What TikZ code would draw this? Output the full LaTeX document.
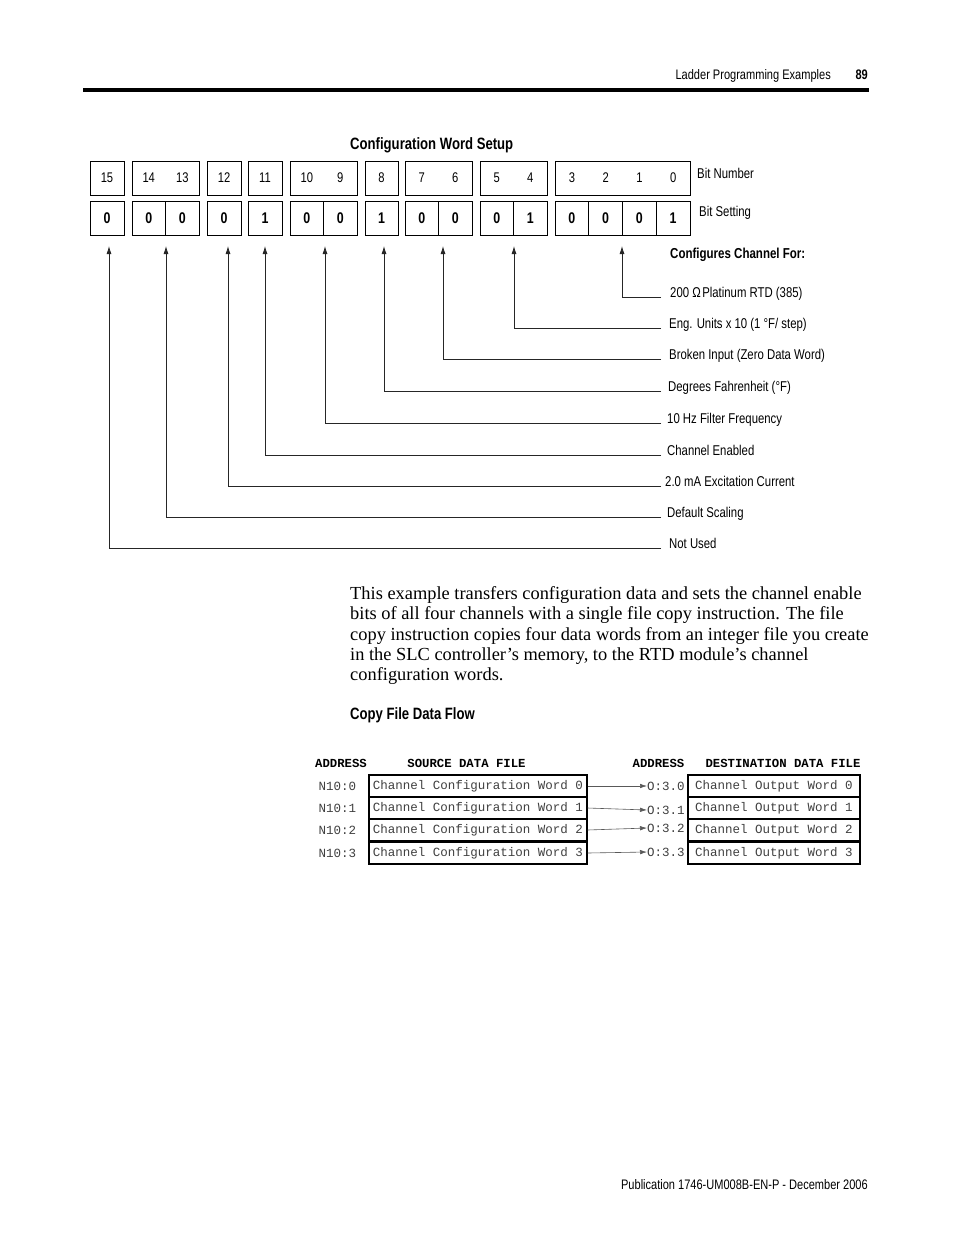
\documentclass[tikz,border=0pt]{standalone}
\usepackage{fontspec}
\setmainfont{Liberation Serif}
\newfontfamily\condsans[FakeStretch=0.8]{Liberation Sans}
\newfontfamily\monofam{Liberation Mono}
\usetikzlibrary{arrows.meta}
\begin{document}
\begin{tikzpicture}[x=1pt,y=-1pt,
  lbl/.style={font=\condsans\fontsize{14.2}{16}\selectfont, anchor=base west, inner sep=0},
  lblb/.style={font=\condsans\bfseries\fontsize{14.4}{16}\selectfont, inner sep=0},
  ttl/.style={font=\condsans\bfseries\fontsize{16.4}{18}\selectfont, inner sep=0},
  cell/.style={draw, minimum height=34, inner sep=0, line width=0.8, font=\condsans\bfseries\fontsize{15.5}{17}\selectfont},
  grp/.style={draw, minimum height=34, inner sep=0, line width=0.8},
  num/.style={inner sep=0, font=\condsans\fontsize{14}{15}\selectfont},
  conn/.style={line width=0.8, draw=black!85, -{Latex[length=8pt,width=5pt]}},
  ptxt/.style={anchor=base west, inner sep=0, font=\fontsize{18.4}{20}\selectfont},
  mono/.style={inner sep=0, text=black!75, font=\monofam\fontsize{12.5}{14}\selectfont},
  monob/.style={inner sep=0, font=\monofam\bfseries\fontsize{12.3}{14}\selectfont},
  srcbox/.style={draw, line width=1.2, minimum width=218, minimum height=22, inner sep=0, text=black!75, font=\monofam\fontsize{12.5}{14}\selectfont},
  dstbox/.style={draw, line width=1.2, minimum width=172, minimum height=22, inner sep=0, text=black!75, font=\monofam\fontsize{12.5}{14}\selectfont},
  farr/.style={line width=0.6, draw=black!65, -{Latex[length=7pt,width=4.5pt]}}
]
\useasboundingbox (0,0) rectangle (954,1235);
\fill[white] (0,0) rectangle (954,1235);

% page header
\node[inner sep=0, anchor=base east, font=\condsans\fontsize{13.8}{15}\selectfont] (hdr) at (831,79) {Ladder Programming Examples};
\node[inner sep=0, anchor=base east, font=\condsans\bfseries\fontsize{13.8}{15}\selectfont] (pg) at (868,79) {89};
\draw[line width=4] (83,90) -- (869,90);

% title
\node[ttl, anchor=base west] (title) at (350,149) {Configuration Word Setup};

% bit number groups
\foreach \g/\c/\w in {A/107/34, B/165.5/67, C/224/34, D/265/34, E/323.5/67, F/381.5/33, G/438.5/67, H/513.5/67, I/622.5/135}
  \node[grp, minimum width=\w] (g\g) at (\c,178) {};
% bit numbers and settings
\foreach \n/\c/\w/\v in {15/107/34/0, 14/148.75/33.5/0, 13/182.25/33.5/0, 12/224/34/0, 11/265/34/1, 10/306.75/33.5/0, 9/340.25/33.5/0, 8/381.5/33/1, 7/421.75/33.5/0, 6/455.25/33.5/0, 5/496.75/33.5/0, 4/530.25/33.5/1, 3/571.875/33.75/0, 2/605.625/33.75/0, 1/639.375/33.75/0, 0/673.125/33.75/1}
{
  \node[num] (n\n) at (\c,178) {\n};
  \node[cell, minimum width=\w] (s\n) at (\c,218) {\v};
}

\node[lbl] (bitnum) at (697,178) {Bit Number};
\node[lbl] (bitset) at (699,216) {Bit Setting};
\node[lblb, anchor=base west] (cfg) at (670,258) {Configures Channel For:};

% connectors
\foreach \k/\x/\y/\lx/\t in {
  a/109/548/669/{Not Used},
  b/166/517/667/{Default Scaling},
  c/228/486/665/{2.0 mA Excitation Current},
  d/265/455/667/{Channel Enabled},
  e/325/423/667/{10 Hz Filter Frequency},
  f/384/391/668/{Degrees Fahrenheit (°F)},
  g/443/359/669/{Broken Input (Zero Data Word)},
  h/514/328/669/{Eng. Units x 10 (1 °F/ step)},
  i/622/297/670/{200 Ω\hspace{1.5pt}Platinum RTD (385)}}
{
  \coordinate (tip\k) at (\x,246);
  \coordinate (end\k) at (661,\y);
  \draw[conn] (end\k) -| (tip\k);
  \node[lbl] (lab\k) at (\lx,\y+0.5) {\t};
}

% paragraph
\node[ptxt] (p1) at (350,599) {This example transfers configuration data and sets the channel enable};
\node[ptxt] (p2) at (350,619.5) {bits of all four channels with a single file copy instruction. The file};
\node[ptxt] (p3) at (350,640) {copy instruction copies four data words from an integer file you create};
\node[ptxt] (p4) at (350,660) {in the SLC controller’s memory, to the RTD module’s channel};
\node[ptxt] (p5) at (350,680.5) {configuration words.};

\node[ttl, anchor=base west] (cftitle) at (350,719) {Copy File Data Flow};

% copy file table
\node[monob] (h1) at (341,763) {ADDRESS};
\node[monob] (h2) at (466.5,763) {SOURCE DATA FILE};
\node[monob] (h3) at (658.5,763) {ADDRESS};
\node[monob] (h4) at (783,763) {DESTINATION DATA FILE};

\foreach \i/\y/\dy in {0/786/786, 1/808/810, 2/830/828, 3/853/852}
{
  \node[mono] (a\i) at (337.5,\y) {N10:\i};
  \node[srcbox] (src\i) at (478,\y) {Channel Configuration Word \i};
  \node[dstbox] (dst\i) at (774,\y) {Channel Output Word \i};
  \node[mono, anchor=west] (o\i) at (647,\dy) {O:3.\i};
  \draw[farr] (src\i.east) -- (o\i.west);
}

% footer
\node[inner sep=0, anchor=base east, font=\condsans\fontsize{13.8}{15}\selectfont] (foot) at (868,1189) {Publication 1746-UM008B-EN-P - December 2006};
\end{tikzpicture}
\end{document}
